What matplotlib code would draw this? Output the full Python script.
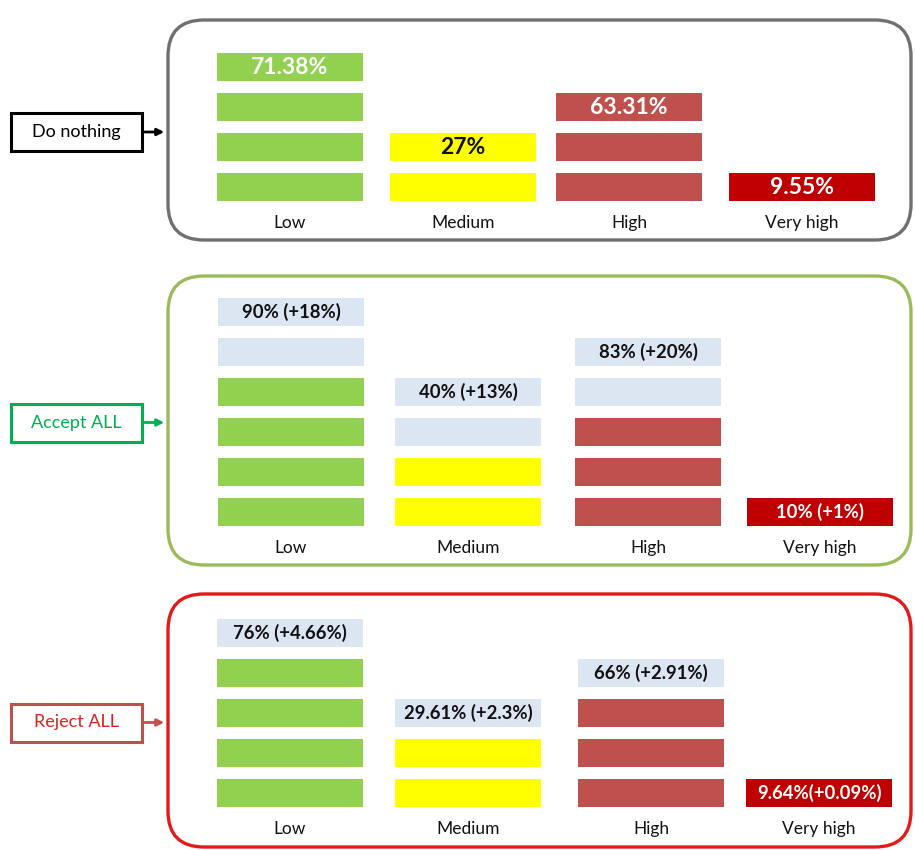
import matplotlib
matplotlib.use("Agg")
import matplotlib.pyplot as plt
from matplotlib.patches import FancyBboxPatch, Rectangle

plt.rcParams['font.family'] = ['Lato', 'DejaVu Sans']

# data
categories = ["Low", "Medium", "High", "Very high"]
scenarios = ["Do nothing", "Accept ALL", "Reject ALL"]
base_blocks = [4, 2, 3, 1]              # blocks for the baseline, per category
extra_blocks = [[0, 0, 0, 0],           # added (light blue) blocks per scenario
                [2, 2, 2, 0],
                [1, 1, 1, 0]]
value_labels = [["71.38%", "27%", "63.31%", "9.55%"],
                ["90% (+18%)", "40% (+13%)", "83% (+20%)", "10% (+1%)"],
                ["76% (+4.66%)", "29.61% (+2.3%)", "66% (+2.91%)", "9.64%(+0.09%)"]]

# styles
cat_colors = ["#92D050", "#FFFF00", "#C0504D", "#C00000"]
extra_color = "#DCE6F2"
panel_edge = ["#707070", "#9BBB59", "#E41A1A"]
box_edge = ["#000000", "#00B050", "#C0504D"]
box_text = ["#000000", "#00B050", "#E0201F"]

# layout (pixels)
panel_top = [20, 276, 594]
panel_bot = [240, 565, 847]
block_base = [201, 526, 807]
col_left = [[217, 390, 556, 729], [218, 395, 575, 747], [217, 395, 578, 746]]
col_w, block_h, pitch = 146, 28, 40
cat_off = 22

fig = plt.figure(figsize=(9.15, 8.5), dpi=100)
ax = fig.add_axes([0, 0, 1, 1])
ax.set_xlim(0, 915)
ax.set_ylim(850, 0)
ax.axis('off')

for p, name in enumerate(scenarios):
    top, bot = panel_top[p], panel_bot[p]
    ax.add_patch(FancyBboxPatch((168, top), 743, bot - top,
                                boxstyle="round,pad=0,rounding_size=36",
                                fc="white", ec=panel_edge[p], lw=2.4, zorder=1))
    mid = (top + bot) / 2 + 2
    ax.add_patch(Rectangle((11, mid - 19), 131, 38, fc="white",
                           ec=box_edge[p], lw=2.2, zorder=2))
    ax.text(76, mid, name, ha='center', va='center', fontsize=13,
            color=box_text[p], zorder=3)
    ax.annotate("", xy=(167, mid), xytext=(142, mid),
                arrowprops=dict(arrowstyle="-|>", color=box_edge[p], lw=2,
                                mutation_scale=10), zorder=3)

    for c, cat in enumerate(categories):
        n_base = base_blocks[c]
        n_extra = extra_blocks[p][c]
        n = n_base + n_extra
        left = col_left[p][c]
        cx = left + col_w / 2
        tops = [block_base[p] - block_h - i * pitch for i in range(n)]
        colors = [cat_colors[c]] * n_base + [extra_color] * n_extra
        ax.bar([cx] * n, [block_h] * n, bottom=tops, width=col_w,
               color=colors, zorder=2)
        top_color = colors[-1]
        tc = "white" if top_color in ("#92D050", "#C0504D", "#C00000") else "#111111"
        fs = 16.5 if p == 0 else 13.3
        ax.text(cx, tops[-1] + block_h / 2, value_labels[p][c], ha='center',
                va='center', fontsize=fs, fontweight='bold', color=tc, zorder=3)
        ax.text(cx, block_base[p] + cat_off, cat, ha='center', va='center',
                fontsize=12.5, color="#111111", zorder=3)

fig.savefig("out.png", dpi=100)
